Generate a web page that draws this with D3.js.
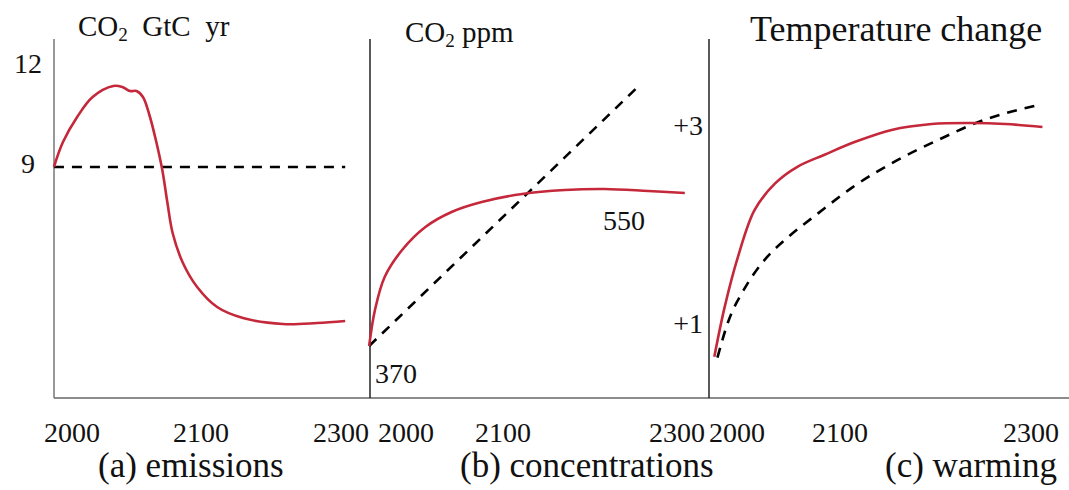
<!DOCTYPE html>
<html>
<head>
<meta charset="utf-8">
<script src="https://cdn.jsdelivr.net/npm/d3@7"></script>
<style>
  body { margin: 0; background: #fff; }
  svg text { font-family: "Liberation Serif", "Times New Roman", serif; fill: #111; white-space: pre; }
</style>
</head>
<body>
<svg id="chart" width="1069" height="490"></svg>
<script>
// tick labels shared by the three panels
var tickYears = [2000, 2100, 2300];

// (a) emissions, GtC per year
var emisYears = [1986, 1993, 2004, 2016, 2032, 2039, 2045, 2050, 2055, 2060, 2065, 2070, 2074, 2078, 2086, 2097, 2123, 2160, 2217, 2266, 2306];
var emisValues = [9, 9.75, 10.5, 11.1, 11.43, 11.4, 11.28, 11.28, 11.1, 10.56, 9.81, 8.91, 7.92, 7.02, 6.12, 5.4, 4.8, 4.47, 4.29, 4.32, 4.38];
var emisRefYears = [1986, 2306];
var emisRefValues = [9, 9];
var emisTicks = [9, 12];

// (b) concentrations, ppm
var concYears = [1962, 1968, 1978, 1996, 2020, 2047, 2078, 2122, 2171, 2217, 2267, 2309];
var concValues = [370, 411.5, 449.6, 480.8, 507.3, 524.6, 536.1, 545.4, 550, 551.2, 548.8, 546.5];
var concRefYears = [1962, 2255];
var concRefValues = [370, 669];

// (c) warming, degrees
var warmYears = [1978, 1988, 2001, 2017, 2037, 2059, 2085, 2116, 2154, 2196, 2238, 2273, 2312];
var warmValues = [0.66, 1.16, 1.67, 2.14, 2.41, 2.58, 2.70, 2.83, 2.95, 3.01, 3.02, 3.01, 2.98];
var warmRefYears = [1981, 1991, 2008, 2027, 2050, 2079, 2113, 2161, 2203, 2245, 2307];
var warmRefValues = [0.65, 1.0, 1.36, 1.64, 1.87, 2.11, 2.37, 2.65, 2.85, 3.03, 3.20];
var warmTicks = [1, 3];

var RED = "#c4283a";
var svg = d3.select("#chart");
var top_y = 39, base_y = 398;

var panels = [
    { axisX: 54, xr: [72, 201, 341], yd: [9, 12], yr: [167, 67], axisColor: "#777",
      series: [[emisYears, emisValues], [emisRefYears, emisRefValues]] },
    { axisX: 370, xr: [406, 503, 677], yd: [370, 550], yr: [346, 190], axisColor: "#222",
      series: [[concYears, concValues], [concRefYears, concRefValues]] },
    { axisX: 709, xr: [737, 840, 1031], yd: [1, 3], yr: [323, 125], axisColor: "#222",
      series: [[warmYears, warmValues], [warmRefYears, warmRefValues]] }
];

// baseline across all panels
svg.append("line")
    .attr("x1", 54).attr("x2", 1069)
    .attr("y1", base_y).attr("y2", base_y)
    .attr("stroke", "#666").attr("stroke-width", 1.5);

panels.forEach(function(p) {
    p.x = d3.scaleLinear().domain(tickYears).range(p.xr);
    p.y = d3.scaleLinear().domain(p.yd).range(p.yr);

    svg.append("line")
        .attr("x1", p.axisX).attr("x2", p.axisX)
        .attr("y1", top_y).attr("y2", base_y)
        .attr("stroke", p.axisColor).attr("stroke-width", 1.5);

    svg.selectAll(null).data(tickYears).enter().append("text")
        .attr("x", function(d) { return p.x(d); })
        .attr("y", 442)
        .attr("text-anchor", "middle")
        .attr("font-size", 28)
        .text(function(d) { return d; });

    var line = d3.line()
        .x(function(d) { return p.x(d[0]); })
        .y(function(d) { return p.y(d[1]); })
        .curve(d3.curveMonotoneX);

    var ref = p.series[1];
    svg.append("path")
        .datum(d3.zip(ref[0], ref[1]))
        .attr("d", line)
        .attr("fill", "none")
        .attr("stroke", "#000")
        .attr("stroke-width", 2.6)
        .attr("stroke-dasharray", "10,8");

    var main = p.series[0];
    svg.append("path")
        .datum(d3.zip(main[0], main[1]))
        .attr("d", line.curve(d3.curveCatmullRom.alpha(0.5)))
        .attr("fill", "none")
        .attr("stroke", RED)
        .attr("stroke-width", 2.6);
});

// y labels
var pa = panels[0], pb = panels[1], pc = panels[2];
svg.selectAll(null).data(emisTicks).enter().append("text")
    .attr("x", 28).attr("y", function(d) { return pa.y(d) + 6; })
    .attr("text-anchor", "middle").attr("font-size", 28)
    .text(function(d) { return d; });

svg.selectAll(null).data(warmTicks).enter().append("text")
    .attr("x", pc.axisX - 6).attr("y", function(d) { return pc.y(d) + 10; })
    .attr("text-anchor", "end").attr("font-size", 28)
    .text(function(d) { return "+" + d; });

svg.append("text")
    .attr("x", pb.axisX + 26).attr("y", pb.y(concValues[0]) + 37)
    .attr("text-anchor", "middle").attr("font-size", 28)
    .text(concValues[0]);
svg.append("text")
    .attr("x", pb.x(2239)).attr("y", pb.y(550) + 40)
    .attr("text-anchor", "middle").attr("font-size", 28)
    .text("550");

// panel titles
function co2Title(x, y, size, rest) {
    var t = svg.append("text").attr("x", x).attr("y", y).attr("font-size", size);
    t.append("tspan").text("CO");
    t.append("tspan").attr("font-size", size * 0.66).attr("dy", 5).text("2");
    t.append("tspan").attr("dy", -5).text(rest);
}
co2Title(78, 36, 29, "  GtC  yr");
co2Title(405, 42, 29, " ppm");
svg.append("text").attr("x", 750).attr("y", 41).attr("font-size", 36).text("Temperature change");

// captions
var captions = [["(a) emissions", 98], ["(b) concentrations", 460], ["(c) warming", 885]];
svg.selectAll(null).data(captions).enter().append("text")
    .attr("x", function(d) { return d[1]; })
    .attr("y", 477)
    .attr("font-size", 35)
    .text(function(d) { return d[0]; });
</script>
</body>
</html>
